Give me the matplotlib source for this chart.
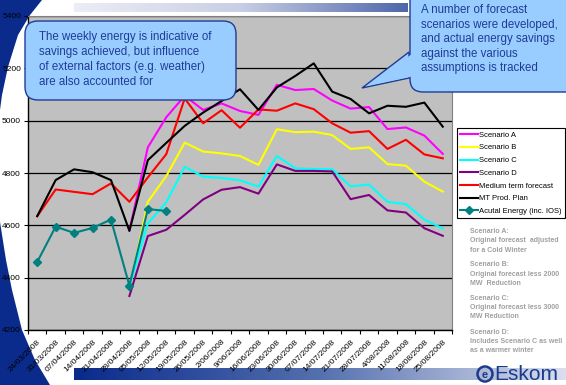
import numpy as np
import matplotlib
matplotlib.use("Agg")
import matplotlib.pyplot as plt
from matplotlib.patches import Polygon, FancyBboxPatch, Circle
from matplotlib.colors import LinearSegmentedColormap

plt.rcParams['font.family'] = ['Liberation Sans', 'DejaVu Sans']

weeks = ['24/03/2008', '31/03/2008', '07/04/2008', '14/04/2008', '21/04/2008',
         '28/04/2008', '05/05/2008', '12/05/2008', '19/05/2008', '26/05/2008',
         '2/06/2008', '9/06/2008', '16/06/2008', '23/06/2008', '30/06/2008',
         '07/07/2008', '14/07/2008', '21/07/2008', '28/07/2008', '4/08/2008',
         '11/08/2008', '18/08/2008', '25/08/2008']

# scenarios start at the 28/04 week (index 5)
scen_a = [4580, 4898, 5013, 5095, 5041, 5066, 5037, 5022, 5137, 5117, 5121,
          5077, 5046, 5052, 4968, 4974, 4943, 4873]
scen_b = [4355, 4690, 4788, 4916, 4882, 4875, 4865, 4831, 4967, 4956, 4958,
          4945, 4892, 4898, 4834, 4828, 4767, 4729]
scen_c = [4365, 4607, 4688, 4824, 4786, 4781, 4772, 4748, 4865, 4818, 4815,
          4814, 4749, 4756, 4690, 4681, 4622, 4588]
scen_d = [4330, 4559, 4583, 4640, 4699, 4736, 4746, 4721, 4833, 4808, 4808,
          4806, 4700, 4716, 4657, 4649, 4589, 4560]
medium_term = [4635, 4737, 4728, 4719, 4760, 4690, 4783, 4872, 5085, 4990,
               5040, 4973, 5043, 5038, 5066, 5044, 4990, 4954, 4960, 4892,
               4927, 4871, 4856]
mt_plan = [4635, 4773, 4814, 4803, 4773, 4579, 4849, 4915, 4980, 5031, 5075,
           5120, 5041, 5127, 5171, 5219, 5111, 5083, 5028, 5057, 5053, 5069,
           4977]
actual = [4460, 4595, 4571, 4590, 4622, 4370, 4662, 4655]

W, H = 566, 385
fig = plt.figure(figsize=(W / 100, H / 100), dpi=100, facecolor='white')

# slide decoration, pixel coordinates
bg = fig.add_axes([0, 0, 1, 1], zorder=0)
bg.set_xlim(0, W)
bg.set_ylim(H, 0)
bg.axis('off')
navy = '#0B2B8C'
bg.add_patch(Polygon([(0, 0), (42, 0), (30, 15), (18, 35), (8, 67), (2, 95), (0, 110)],
                     closed=True, fc=navy, ec='none'))
bg.add_patch(Polygon([(0, 222), (6, 260), (12, 290), (22, 330), (35, 360), (50, 385), (0, 385)],
                     closed=True, fc=navy, ec='none'))
grad = np.linspace(0, 1, 256).reshape(1, -1)
top_cm = LinearSegmentedColormap.from_list('top', ['#ECEEF6', '#C8CEE4', '#4E66AA'])
bot_cm = LinearSegmentedColormap.from_list('bot', ['#0A2A8C', '#5470AE', '#DADEEF'])
bg.imshow(grad, cmap=top_cm, extent=(74, 408, 12.5, 4), aspect='auto')
bg.imshow(grad, cmap=bot_cm, extent=(74, 566, 380, 368), aspect='auto')
bg.set_xlim(0, W)
bg.set_ylim(H, 0)

# chart
ax = fig.add_axes([28 / W, 1 - 330 / H, 424 / W, 314 / H], zorder=2)
ax.set_facecolor('#C0C0C0')
x = np.arange(len(weeks))
xs = x[5:]
ax.plot(xs, scen_a, color='#FF00FF', lw=1.5, label='Scenario A')
ax.plot(xs, scen_b, color='#FFFF00', lw=1.5, label='Scenario B')
ax.plot(xs, scen_c, color='#00FFFF', lw=1.5, label='Scenario C')
ax.plot(xs, scen_d, color='#800080', lw=1.5, label='Scenario D')
ax.plot(x, medium_term, color='#FF0000', lw=1.5, label='Medium term forecast')
ax.plot(x, mt_plan, color='black', lw=1.5, label='MT Prod. Plan')
ax.plot(x[:len(actual)], actual, color='#008080', lw=1.5, marker='D', ms=4,
        label='Acutal Energy (inc. IOS)')

ax.set_xlim(-0.5, len(weeks) - 0.5)
ax.set_ylim(4200, 5400)
ax.set_yticks(np.arange(4200, 5401, 200))
ax.yaxis.grid(True, color='black', lw=0.9)
ax.set_axisbelow(True)
ax.set_xticks(x)
ax.set_xticklabels(weeks, rotation=45, ha='right', va='top', rotation_mode='anchor',
                   fontsize=6)
ax.set_xticks(np.arange(-0.5, len(weeks), 1), minor=True)
ax.tick_params(axis='x', which='major', length=0, pad=6)
ax.tick_params(axis='x', which='minor', length=3, width=0.8, direction='out')
ax.tick_params(axis='y', labelsize=6, length=3, width=0.8, pad=2)
for s in ['left', 'bottom']:
    ax.spines[s].set_color('black')
    ax.spines[s].set_linewidth(1)
for s in ['top', 'right']:
    ax.spines[s].set_color('#808080')
    ax.spines[s].set_linewidth(0.8)

leg = ax.legend(loc='upper left', bbox_to_anchor=(457 / W, 1 - 128 / H),
                bbox_transform=fig.transFigure, borderaxespad=0, fontsize=5.5,
                handlelength=2.3, handletextpad=0.15, labelspacing=0.7,
                borderpad=0.45, fancybox=False, framealpha=1, edgecolor='black')
leg.get_frame().set_linewidth(0.8)

# callouts and notes on top
ov = fig.add_axes([0, 0, 1, 1], zorder=5)
ov.set_xlim(0, W)
ov.set_ylim(H, 0)
ov.axis('off')
ov.patch.set_alpha(0)
fill, edge, txt = '#99CCFF', '#1E3C96', '#1E3C96'

ov.add_patch(FancyBboxPatch((25, 21), 211, 79, boxstyle='round,pad=0,rounding_size=13',
                            fc=fill, ec=edge, lw=1))
ov.text(39, 31, 'The weekly energy is indicative of\nsavings achieved, but influence\n'
        'of external factors (e.g. weather)\nare also accounted for',
        fontsize=8.3, color=txt, va='top', ha='left', linespacing=1.33)

ov.add_patch(Polygon([(409, 52), (362, 88), (409, 78)], closed=True, fc=fill, ec=edge, lw=1))
ov.add_patch(FancyBboxPatch((410, -20), 190, 112, boxstyle='round,pad=0,rounding_size=13',
                            fc=fill, ec=edge, lw=1))
ov.add_patch(Polygon([(412, 54), (366, 86.3), (412, 76.5)], closed=True, fc=fill, ec='none'))
ov.text(421, 4, 'A number of forecast\nscenarios were developed,\nand actual energy savings\n'
        'against the various\nassumptions is tracked',
        fontsize=8.3, color=txt, va='top', ha='left', linespacing=1.28)

notes = ['Scenario A:\nOriginal forecast  adjusted\nfor a Cold Winter',
         'Scenario B:\nOriginal forecast less 2000\nMW  Reduction',
         'Scenario C:\nOriginal forecast less 3000\nMW Reduction',
         'Scenario D:\nIncludes Scenario C as well\nas a warmer winter']
for i, n in enumerate(notes):
    ov.text(470, 228 + i * 33.5, n, fontsize=5, color='#A0A0A0', fontweight='bold',
            va='top', ha='left', linespacing=1.45)

# logo
ov.add_patch(Circle((485, 374), 7.5, fc='none', ec='#1A3A8A', lw=1.8))
ov.text(485, 374.5, 'e', fontsize=8, color='#1A3A8A', ha='center', va='center',
        fontweight='bold')
ov.text(494, 375, 'Eskom', fontsize=15, color='#1A3A8A', ha='left', va='center')

fig.savefig('out.png', dpi=100)
